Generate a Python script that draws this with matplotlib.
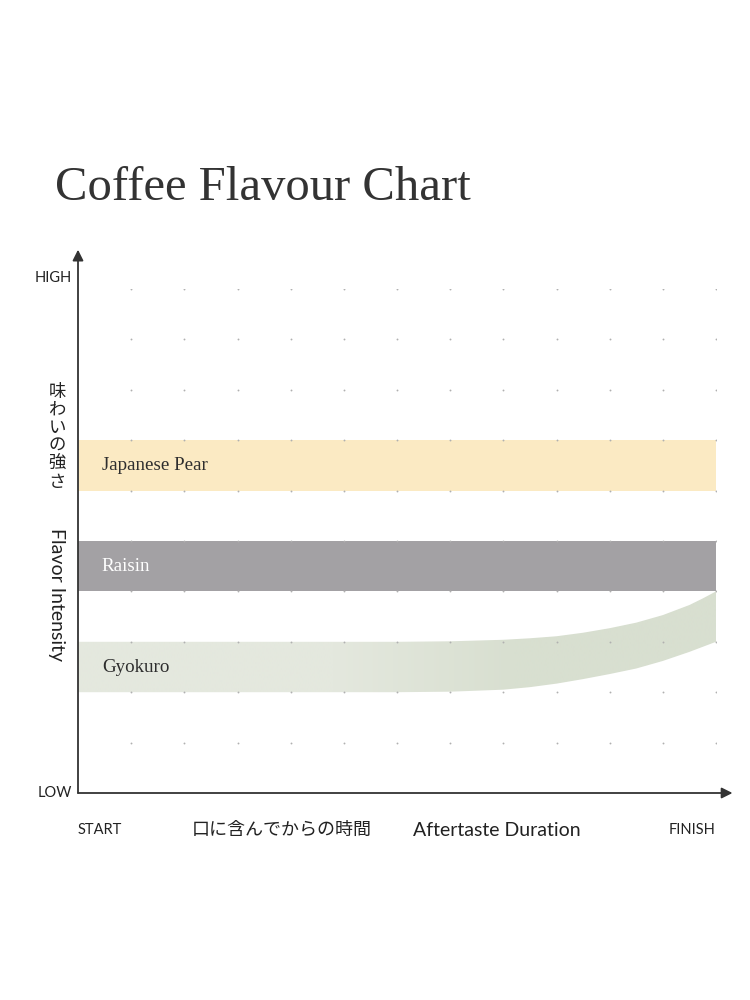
import numpy as np
import matplotlib
matplotlib.use("Agg")
import matplotlib.pyplot as plt
from matplotlib.patches import Polygon

# band data (x = time step 0..12, y = intensity 0..10)
flavours = ["Japanese Pear", "Raisin", "Gyokuro"]
pear_x = [0, 12]
pear_low = [6, 6]
pear_high = [7, 7]
raisin_x = [0, 12]
raisin_low = [4, 4]
raisin_high = [5, 5]
gyokuro_x = [0, 6, 7, 8, 8.5, 9, 9.5, 10, 10.5, 11, 11.5, 11.75, 12]
gyokuro_low = [2, 2, 2.01, 2.05, 2.1, 2.17, 2.26, 2.36, 2.47, 2.62, 2.8, 2.9, 3.0]
gyokuro_high = [3, 3, 3.01, 3.04, 3.07, 3.11, 3.18, 3.27, 3.38, 3.53, 3.73, 3.86, 4.0]

grid_x = list(range(1, 13))
grid_y = list(range(1, 11))

y_labels = ["LOW", "HIGH"]
x_labels = ["START", "FINISH"]

serif = "Liberation Serif"
sans = ["Lato", "Noto Sans CJK JP"]
jp = ["Noto Sans CJK JP", "DejaVu Sans"]

fig = plt.figure(figsize=(7.5, 10), dpi=100)
fig.patch.set_facecolor("white")

ax = fig.add_axes([78 / 750, 207 / 1000, 638 / 750, 504 / 1000])
ax.set_xlim(0, 12)
ax.set_ylim(0, 10)
ax.axis("off")

# bands
ax.fill_between(pear_x, pear_low, pear_high, color="#fbeac3", lw=0, zorder=1)
ax.fill_between(raisin_x, raisin_low, raisin_high, color="#a3a1a4", lw=0, zorder=1)

# gyokuro with a soft left-to-right gradient
poly_pts = np.column_stack([
    np.concatenate([gyokuro_x, gyokuro_x[::-1]]),
    np.concatenate([gyokuro_high, gyokuro_low[::-1]]),
])
clip = Polygon(poly_pts, closed=True, facecolor="none", edgecolor="none")
ax.add_patch(clip)
c_left = np.array(matplotlib.colors.to_rgb("#e4e8de"))
c_right = np.array(matplotlib.colors.to_rgb("#d8dfd0"))
xs = np.linspace(0, 12, 600)
t = np.clip((xs - 4.8) / 3.4, 0, 1)
grad = c_left[None, :] * (1 - t[:, None]) + c_right[None, :] * t[:, None]
im = ax.imshow(grad[None, :, :], extent=(0, 12, 0, 10), aspect="auto",
               interpolation="bilinear", zorder=1)
im.set_clip_path(clip)

# dotted grid
gx, gy = np.meshgrid(grid_x, grid_y)
ax.scatter(gx.ravel(), gy.ravel(), s=1.8, color="#b0b0b0", lw=0, zorder=3)

# axes with arrows
arrow = dict(arrowstyle="-|>", color="#333333", lw=1.3,
             mutation_scale=16, shrinkA=0, shrinkB=0)
ax.annotate("", xy=(12.31, 0), xytext=(0, 0), annotation_clip=False,
            arrowprops=arrow, zorder=4)
ax.annotate("", xy=(0, 10.78), xytext=(0, 0), annotation_clip=False,
            arrowprops=arrow, zorder=4)

# band labels
band_mid = [6.5, 4.5, 2.5]
band_col = ["#2e2e2e", "white", "#2e2e2e"]
for name, ym, col in zip(flavours, band_mid, band_col):
    ax.text(0.45, ym, name, family=serif, fontsize=13.7, color=col,
            va="center", ha="left", zorder=5)

# title
fig.text(55 / 750, 1 - 188 / 1000, "Coffee Flavour Chart", family=serif,
         fontsize=35, color="#333333", va="center", ha="left")

# axis end labels
lab = dict(family=sans, fontsize=10.5, color="#222222", va="center")
fig.text(72 / 750, 1 - 278 / 1000, y_labels[1], ha="right", **lab)
fig.text(72 / 750, 1 - 793 / 1000, y_labels[0], ha="right", **lab)
fig.text(78 / 750, 1 - 830 / 1000, x_labels[0], ha="left", **lab)
fig.text(716 / 750, 1 - 830 / 1000, x_labels[1], ha="right", **lab)

# axis titles
fig.text(282 / 750, 1 - 830 / 1000, "口に含んでからの時間", family=jp,
         fontsize=13, color="#222222", ha="center", va="center")
fig.text(497 / 750, 1 - 830 / 1000, "Aftertaste Duration", family=sans,
         fontsize=14, color="#222222", ha="center", va="center")
fig.text(57 / 750, 1 - 437 / 1000, "\n".join("味わいの強さ"), family=jp,
         fontsize=12.5, color="#222222", ha="center", va="center",
         linespacing=1.0)
fig.text(56 / 750, 1 - 595 / 1000, "Flavor Intensity", family=sans,
         fontsize=14, color="#222222", ha="center", va="center", rotation=-90)

fig.savefig("out.png", dpi=100, facecolor="white")
